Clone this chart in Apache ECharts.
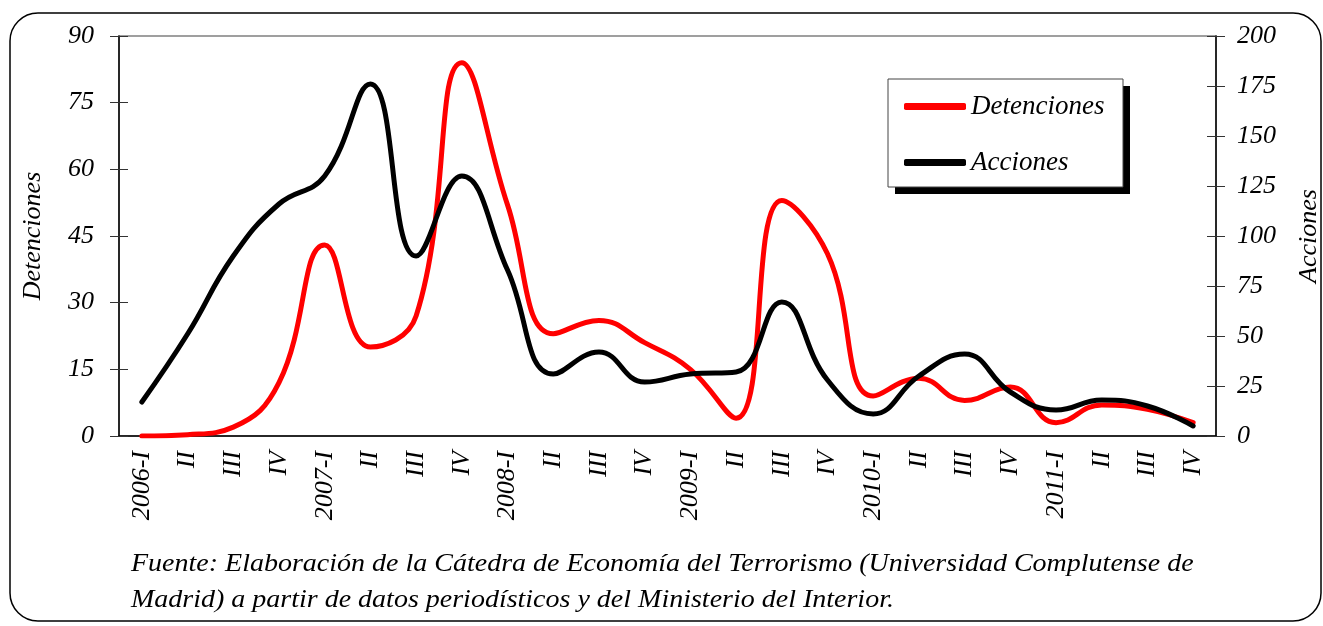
<!DOCTYPE html>
<html>
<head>
    <meta charset="utf-8">
    <style>
        html, body {
            height: 100%;
        }

        * {
            margin: 0;
            padding: 0;
        }

        body {
            background: #fff;
        }

        #container {
            width: 1323px;
            height: 626px;
        }
    </style>
</head>
<body>
<div id="container"></div>
<script type="text/javascript" src="https://cdn.jsdelivr.net/npm/echarts@6/dist/echarts.min.js"></script>
<script type="text/javascript">
    // trimestres 2006-I .. 2011-IV
    let quarters = [
        '2006-I', 'II', 'III', 'IV',
        '2007-I', 'II', 'III', 'IV',
        '2008-I', 'II', 'III', 'IV',
        '2009-I', 'II', 'III', 'IV',
        '2010-I', 'II', 'III', 'IV',
        '2011-I', 'II', 'III', 'IV'
    ];
    // eje izquierdo
    let detenciones = [0, 0.3, 2, 12, 43, 20, 27, 84, 52, 23, 26, 21, 15, 4, 53, 41, 9, 13, 8, 11, 3, 7, 6, 3];
    // eje derecho
    let acciones = [17, 51, 90, 116, 130, 176, 90, 130, 83, 31, 42, 27, 31, 32, 67, 28, 11, 30, 41, 22, 13, 18, 15, 5];

    let leftTicks = [0, 90, 15];
    let rightTicks = [0, 200, 25];

    let fuente = 'Fuente: Elaboración de la Cátedra de Economía del Terrorismo (Universidad Complutense de';
    let fuente2 = 'Madrid) a partir de datos periodísticos y del Ministerio del Interior.';

    let serif = '"Liberation Serif", "DejaVu Serif", serif';
    let dom = document.getElementById("container");
    let myChart = echarts.init(dom);

    let labelStyle = {
        fontFamily: serif,
        fontStyle: 'italic',
        fontSize: 26,
        color: '#000'
    };

    let option = {
        animation: false,
        backgroundColor: '#fff',
        grid: {
            left: 119,
            top: 36,
            width: 1097,
            height: 400,
            outerBoundsMode: 'none',
            containLabel: false,
            show: true,
            borderColor: '#808080',
            borderWidth: 1.5
        },
        legend: {
            data: ['Detenciones', 'Acciones'],
            orient: 'vertical',
            left: 888,
            top: 79,
            padding: [14, 15, 14, 16],
            itemGap: 29,
            itemWidth: 62,
            itemHeight: 7,
            icon: 'roundRect',
            z: 10,
            textStyle: {
                fontFamily: serif,
                fontStyle: 'italic',
                fontSize: 27,
                color: '#000'
            }
        },
        xAxis: [{
            type: 'category',
            data: quarters,
            boundaryGap: true,
            axisLine: {lineStyle: {color: '#000', width: 1.5}},
            axisTick: {length: 9, lineStyle: {color: '#333'}, interval: 0},
            axisLabel: Object.assign({rotate: 90, interval: 0, margin: 15}, labelStyle)
        }, {
            type: 'category',
            data: quarters,
            position: 'bottom',
            boundaryGap: true,
            axisLine: {show: false},
            axisTick: {inside: true, length: 8, lineStyle: {color: '#333'}, interval: 0},
            axisLabel: {show: false}
        }],
        yAxis: [{
            type: 'value',
            name: 'Detenciones',
            nameLocation: 'middle',
            nameRotate: 90,
            nameGap: 73,
            nameTextStyle: labelStyle,
            min: leftTicks[0],
            max: leftTicks[1],
            interval: leftTicks[2],
            position: 'left',
            splitLine: {show: false},
            axisLine: {show: true, lineStyle: {color: '#000', width: 1.5}},
            axisTick: {show: true, length: 9, lineStyle: {color: '#333'}},
            axisLabel: Object.assign({margin: 25}, labelStyle)
        }, {
            type: 'value',
            name: 'Acciones',
            nameLocation: 'middle',
            nameRotate: 90,
            nameGap: 80,
            nameTextStyle: labelStyle,
            min: rightTicks[0],
            max: rightTicks[1],
            interval: rightTicks[2],
            position: 'right',
            splitLine: {show: false},
            axisLine: {show: true, lineStyle: {color: '#000', width: 1.5}},
            axisTick: {show: true, length: 9, lineStyle: {color: '#333'}},
            axisLabel: Object.assign({margin: 21}, labelStyle)
        }, {
            type: 'value',
            min: leftTicks[0],
            max: leftTicks[1],
            interval: leftTicks[2],
            position: 'left',
            splitLine: {show: false},
            axisLine: {show: false},
            axisTick: {show: true, inside: true, length: 9, lineStyle: {color: '#333'}},
            axisLabel: {show: false}
        }, {
            type: 'value',
            min: rightTicks[0],
            max: rightTicks[1],
            interval: rightTicks[2],
            position: 'right',
            splitLine: {show: false},
            axisLine: {show: false},
            axisTick: {show: true, inside: true, length: 9, lineStyle: {color: '#333'}},
            axisLabel: {show: false}
        }],
        series: [{
            name: 'Detenciones',
            type: 'line',
            yAxisIndex: 0,
            data: detenciones,
            smooth: 0.45,
            showSymbol: false,
            symbol: 'none',
            itemStyle: {color: '#ff0000'},
            lineStyle: {color: '#ff0000', width: 5, cap: 'round', join: 'round'}
        }, {
            name: 'Acciones',
            type: 'line',
            yAxisIndex: 1,
            data: acciones,
            smooth: 0.45,
            showSymbol: false,
            symbol: 'none',
            itemStyle: {color: '#000'},
            lineStyle: {color: '#000', width: 5, cap: 'round', join: 'round'}
        }],
        graphic: [{
            type: 'rect',
            shape: {x: 10, y: 13, width: 1311, height: 608, r: 28},
            style: {fill: 'none', stroke: '#000', lineWidth: 1.5},
            silent: true,
            z: -10
        }, {
            // sombra de la leyenda
            type: 'rect',
            shape: {x: 895, y: 86, width: 235, height: 108},
            style: {fill: '#000'},
            silent: true,
            z: 5
        }, {
            type: 'rect',
            shape: {x: 888, y: 79, width: 235, height: 108},
            style: {fill: '#fff', stroke: '#444', lineWidth: 1},
            silent: true,
            z: 6
        }, {
            type: 'text',
            x: 131,
            y: 552,
            scaleX: 1.12,
            style: {
                text: fuente,
                font: 'italic 25px ' + serif,
                fill: '#000'
            }
        }, {
            type: 'text',
            x: 131,
            y: 588,
            scaleX: 1.12,
            style: {
                text: fuente2,
                font: 'italic 25px ' + serif,
                fill: '#000'
            }
        }]
    };
    if (option && typeof option === "object") {
        myChart.setOption(option, true);
    }
</script>
</body>
</html>
